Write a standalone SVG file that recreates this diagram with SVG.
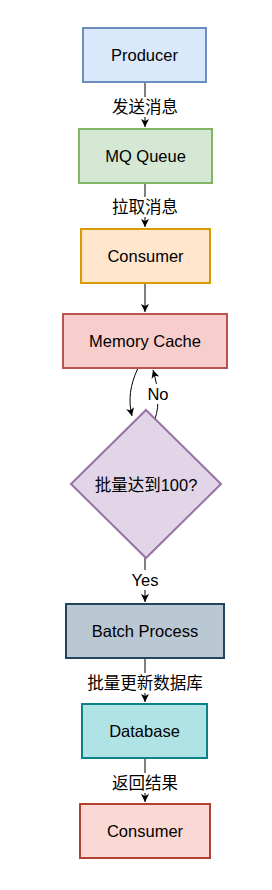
<svg xmlns="http://www.w3.org/2000/svg" width="272" height="890" viewBox="0 0 272 890">
<style>
text{font-family:"Liberation Sans","Noto Sans CJK SC",sans-serif;font-size:16.5px;fill:#000;text-anchor:middle;dominant-baseline:central}
.n{stroke-width:2}
.c{fill:none;stroke:#000;stroke-width:1}
.lb{fill:#fff}
</style>
<defs>
<marker id="a" markerUnits="userSpaceOnUse" markerWidth="10" markerHeight="10" refX="8" refY="4" orient="auto">
<path d="M0,0 L8,4 L0,8 L2,4 Z" fill="#000"/>
</marker>
</defs>
<rect width="272" height="890" fill="#fff"/>
<g id="connectors">
<path class="c" d="M145,82 V127" marker-end="url(#a)"/>
<rect class="lb" x="110" y="97" width="70" height="20"/>
<text x="145" y="107">发送消息</text>
<path class="c" d="M145,183 V227" marker-end="url(#a)"/>
<rect class="lb" x="110" y="197" width="70" height="20"/>
<text x="145" y="207">拉取消息</text>
<path class="c" d="M145,283 V312" marker-end="url(#a)"/>
<path class="c" d="M138,368 C130,385 128,400 132,416" marker-end="url(#a)"/>
<path class="c" d="M155,419 C160,405 158,386 153,370" marker-end="url(#a)"/>
<rect class="lb" x="146" y="384" width="24" height="20"/>
<text x="158" y="394">No</text>
<path class="c" d="M145,558 V602" marker-end="url(#a)"/>
<rect class="lb" x="128" y="570" width="34" height="20"/>
<text x="145" y="580">Yes</text>
<path class="c" d="M145,658 V702" marker-end="url(#a)"/>
<rect class="lb" x="84" y="673" width="122" height="20"/>
<text x="145" y="683">批量更新数据库</text>
<path class="c" d="M145,758 V802" marker-end="url(#a)"/>
<rect class="lb" x="110" y="773" width="70" height="20"/>
<text x="145" y="783">返回结果</text>
</g>
<g id="producer"><rect class="n" x="83" y="28" width="123" height="54" fill="#dae8fc" stroke="#6c8ebf"/><text x="144.5" y="55">Producer</text></g>
<g id="mq"><rect class="n" x="79" y="129" width="133" height="54" fill="#d5e8d4" stroke="#82b366"/><text x="145.5" y="156">MQ Queue</text></g>
<g id="consumer1"><rect class="n" x="81" y="229" width="129" height="54" fill="#ffe6cc" stroke="#d79b00"/><text x="145.5" y="256">Consumer</text></g>
<g id="cache"><rect class="n" x="63" y="314" width="164" height="54" fill="#f8cecc" stroke="#b85450"/><text x="145" y="341">Memory Cache</text></g>
<g id="decision"><path class="n" d="M146,410 L221,484 L146,558 L71,484 Z" fill="#e1d5e7" stroke="#9673a6"/><text x="146" y="485">批量达到100?</text></g>
<g id="batch"><rect class="n" x="66" y="604" width="158" height="54" fill="#bac8d3" stroke="#23445d"/><text x="145" y="631">Batch Process</text></g>
<g id="database"><rect class="n" x="82" y="704" width="125" height="54" fill="#b0e3e6" stroke="#0e8088"/><text x="144.5" y="731">Database</text></g>
<g id="consumer2"><rect class="n" x="80" y="804" width="130" height="54" fill="#fad9d5" stroke="#ae4132"/><text x="145" y="831">Consumer</text></g>
</svg>
